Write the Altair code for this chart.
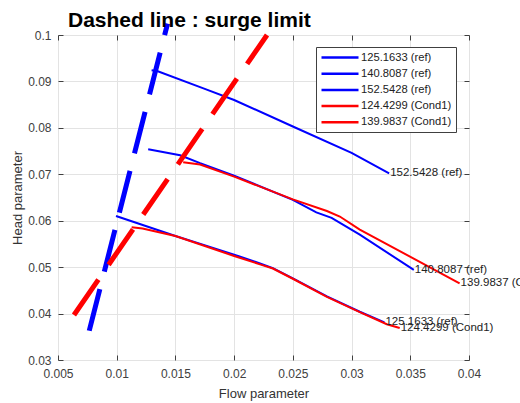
import altair as alt
import pandas as pd

# ---- data ----
ref125_x = [0.00994, 0.0150, 0.0200, 0.0222, 0.0233, 0.0250, 0.0279, 0.0307, 0.0328]
ref125_y = [0.0610, 0.0567, 0.0527, 0.0508, 0.0498, 0.0476, 0.0437, 0.0404, 0.0381]

ref140_x = [0.01268, 0.0154, 0.0171, 0.0200, 0.0250, 0.0270, 0.0283, 0.0307, 0.0353]
ref140_y = [0.0754, 0.0741, 0.0724, 0.0697, 0.0645, 0.0618, 0.0606, 0.0570, 0.0494]

ref152_x = [0.01297, 0.0135, 0.0175, 0.0200, 0.0250, 0.0300, 0.0332]
ref152_y = [0.0924, 0.0922, 0.0884, 0.0860, 0.0803, 0.0746, 0.0702]

c124_x = [0.01127, 0.0122, 0.0150, 0.0200, 0.0222, 0.0233, 0.0250, 0.0279, 0.0307, 0.0330, 0.0341]
c124_y = [0.0586, 0.0583, 0.0567, 0.0524, 0.0506, 0.0497, 0.0475, 0.0436, 0.0403, 0.0377, 0.0369]

c139_x = [0.01566, 0.0171, 0.0200, 0.0250, 0.0279, 0.0290, 0.0307, 0.0392]
c139_y = [0.0726, 0.0721, 0.0695, 0.0646, 0.0621, 0.0609, 0.0581, 0.0465]

surge_ref_x = [0.00766, 0.01433]
surge_ref_y = [0.0363, 0.10245]
surge_c1_x = [0.00636, 0.0228]
surge_c1_y = [0.0397, 0.1000]

series_names = ["125.1633 (ref)", "140.8087 (ref)", "152.5428 (ref)",
                "124.4299 (Cond1)", "139.9837 (Cond1)"]
series_colors = ["#0000FF", "#0000FF", "#0000FF", "#FF0000", "#FF0000"]
series_xy = [(ref125_x, ref125_y), (ref140_x, ref140_y), (ref152_x, ref152_y),
             (c124_x, c124_y), (c139_x, c139_y)]

x_ticks = [0.005, 0.01, 0.015, 0.02, 0.025, 0.03, 0.035, 0.04]
y_ticks = [0.03, 0.04, 0.05, 0.06, 0.07, 0.08, 0.09, 0.1]

rows = []
for name, (xs, ys) in zip(series_names, series_xy):
    for i, (xv, yv) in enumerate(zip(xs, ys)):
        rows.append({"series": name, "flow": xv, "head": yv, "order": i})
df = pd.DataFrame(rows)

ends = df.sort_values("order").groupby("series", sort=False).tail(1)

surge_rows = []
for name, col, xs, ys in [("surge ref", "#0000FF", surge_ref_x, surge_ref_y),
                          ("surge cond1", "#FF0000", surge_c1_x, surge_c1_y)]:
    for i, (xv, yv) in enumerate(zip(xs, ys)):
        surge_rows.append({"line": name, "col": col, "flow": xv, "head": yv, "order": i})
surge = pd.DataFrame(surge_rows)

FONT = "Liberation Sans"
AXC = "#404040"

xscale = alt.Scale(domain=[0.005, 0.04], nice=False, zero=False)
yscale = alt.Scale(domain=[0.03, 0.1], nice=False, zero=False)

xaxis = alt.Axis(values=x_ticks, format="~g", title="Flow parameter", grid=True,
                 gridColor="#e3e3e3", domain=False, ticks=True, tickSize=5,
                 tickColor=AXC, offset=-5, labelPadding=8.5, labelFlush=False,
                 labelFont=FONT, labelFontSize=12, labelColor="#404040",
                 titleFont=FONT, titleFontSize=13, titleFontWeight="normal",
                 titleColor="#333333", titlePadding=8)
yaxis = alt.Axis(values=y_ticks, format="~g", title="Head parameter", grid=True,
                 gridColor="#e3e3e3", domain=False, ticks=True, tickSize=5,
                 tickColor=AXC, offset=-5, labelPadding=7, labelFlush=False,
                 labelFont=FONT, labelFontSize=12, labelColor="#404040",
                 titleFont=FONT, titleFontSize=13, titleFontWeight="normal",
                 titleColor="#333333", titlePadding=3)

xaxis_top = alt.Axis(values=x_ticks, orient="top", title=None, labels=False, grid=False,
                     domain=False, ticks=True, tickSize=5, tickColor=AXC, offset=-5)
yaxis_right = alt.Axis(values=y_ticks, orient="right", title=None, labels=False, grid=False,
                       domain=False, ticks=True, tickSize=5, tickColor=AXC, offset=-5)

lines = alt.Chart(df).mark_line(strokeWidth=2).encode(
    x=alt.X("flow:Q", scale=xscale, axis=xaxis),
    y=alt.Y("head:Q", scale=yscale, axis=yaxis),
    color=alt.Color("series:N",
                    scale=alt.Scale(domain=series_names, range=series_colors),
                    legend=alt.Legend(title=None, orient="none", legendX=258, legendY=12,
                                      symbolType="M-1,0H6.4", symbolSize=100,
                                      symbolStrokeWidth=2.5, labelOffset=28,
                                      labelFont=FONT, labelFontSize=11.2, labelColor="#222222",
                                      rowPadding=4.2, padding=4, strokeColor="#404040",
                                      fillColor="white", cornerRadius=0)),
    detail="series:N",
    order="order:Q",
)

dashed = alt.Chart(surge).mark_line(strokeWidth=5, strokeDash=[43, 18]).encode(
    x=alt.X("flow:Q", scale=xscale, axis=xaxis_top),
    y=alt.Y("head:Q", scale=yscale, axis=yaxis_right),
    color=alt.Color("col:N", scale=None),
    detail="line:N",
    order="order:Q",
)

labels = alt.Chart(ends).mark_text(align="left", baseline="middle", dx=1,
                                   font=FONT, fontSize=11.5, color="#222222").encode(
    x=alt.X("flow:Q", scale=xscale, axis=None),
    y=alt.Y("head:Q", scale=yscale, axis=None),
    text="series:N",
)

chart = alt.layer(lines, dashed, labels).resolve_scale(
    x="independent", y="independent"
).properties(
    width=411, height=325,
    title=alt.TitleParams("Dashed line : surge limit", font=FONT, fontSize=21,
                          fontWeight="bold", color="black", anchor="start",
                          frame="group", dx=10, dy=28, offset=-6, baseline="alphabetic"),
    autosize=alt.AutoSizeParams(type="none"),
    padding={"left": 58, "top": 35, "right": 51, "bottom": 43},
).configure_view(stroke="#404040", strokeWidth=1).configure(background="white")

chart.save("out.html", embed_options={"renderer": "svg", "actions": False})
